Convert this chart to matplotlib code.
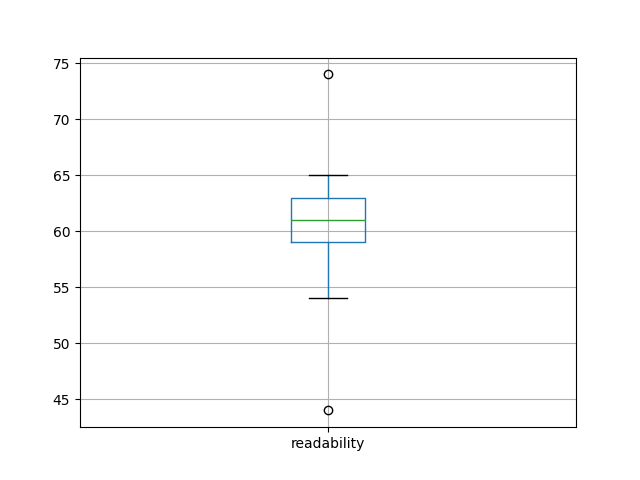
import matplotlib
matplotlib.use("Agg")
import matplotlib.pyplot as plt

labels = ["readability"]
q1 = [59]
med = [61]
q3 = [63]
whislo = [54]
whishi = [65]
fliers = [[44, 74]]

stats = []
for i, lab in enumerate(labels):
    stats.append(dict(label=lab, q1=q1[i], med=med[i], q3=q3[i],
                      whislo=whislo[i], whishi=whishi[i], fliers=fliers[i]))

fig, ax = plt.subplots(figsize=(6.4, 4.8), dpi=100)
ax.bxp(stats,
       boxprops=dict(color="#1f77b4"),
       whiskerprops=dict(color="#1f77b4"),
       medianprops=dict(color="#2ca02c"),
       capprops=dict(color="k"))
ax.grid(True)
fig.savefig("out.png")
